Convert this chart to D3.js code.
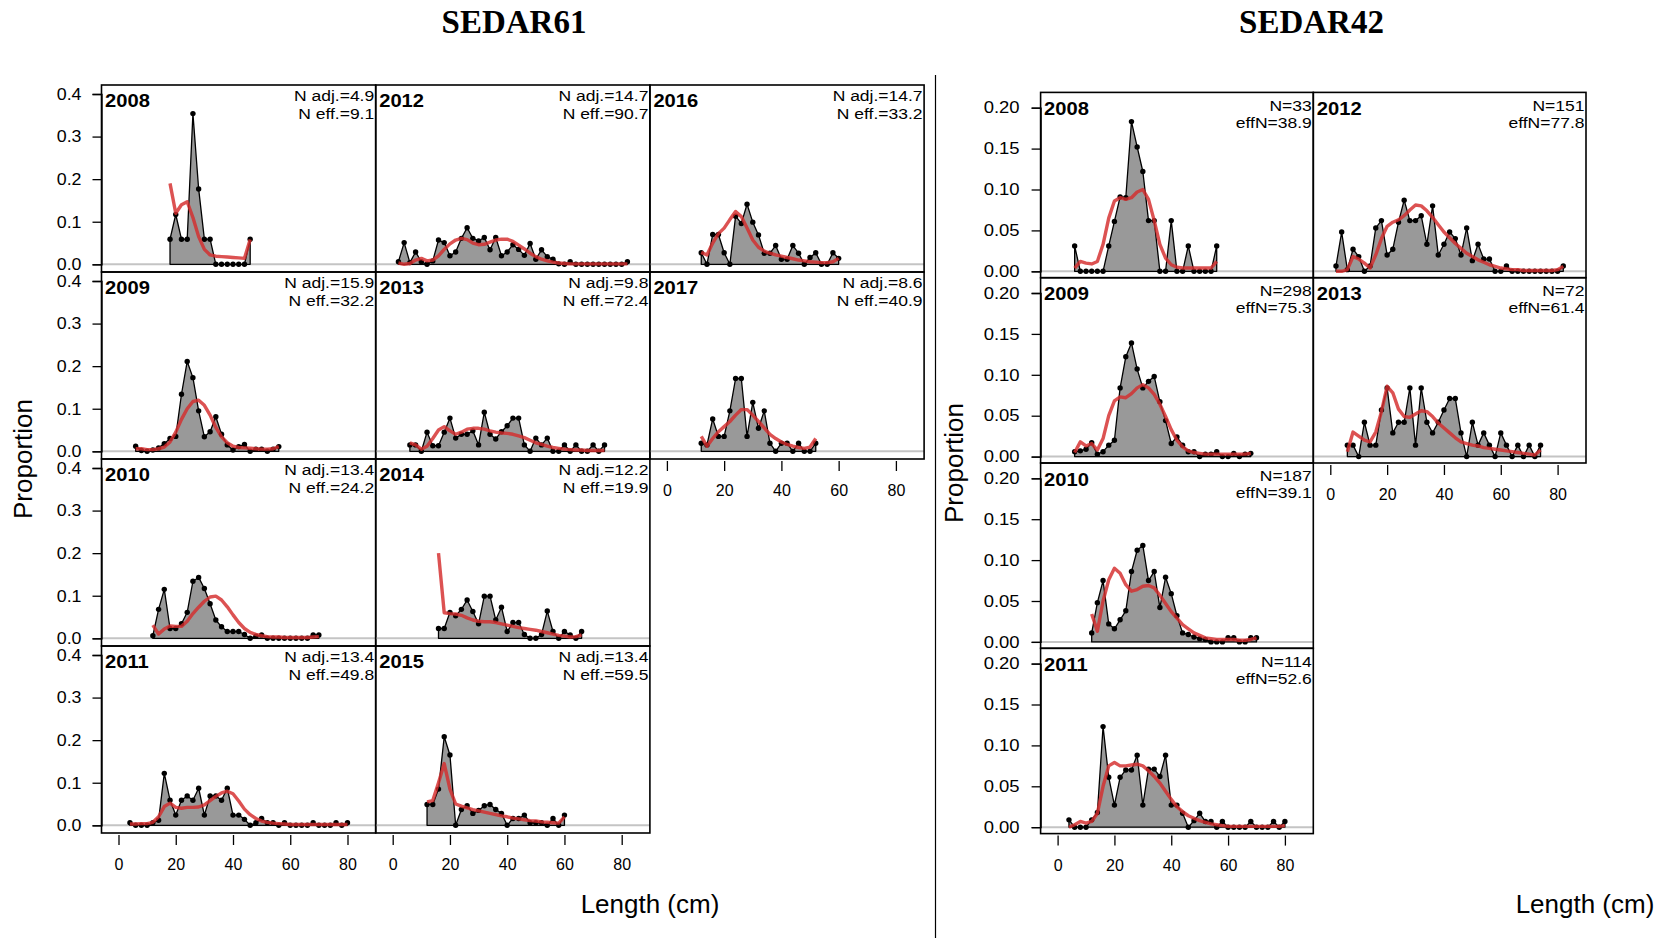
<!DOCTYPE html>
<html><head><meta charset="utf-8">
<script src="https://cdn.jsdelivr.net/npm/d3@7"></script>
<style>body{margin:0;background:#fff}</style>
</head><body>
<script>
// ---------------- DATA ----------------
const lengthTicks = [0, 20, 40, 60, 80];
const yTicks61 = [0, 0.1, 0.2, 0.3, 0.4];
const yTicks42 = [0, 0.05, 0.1, 0.15, 0.2];

// SEDAR61 panels
const years61 = [2008, 2009, 2010, 2011, 2012, 2013, 2014, 2015, 2016, 2017];
const nAdj61 = ["4.9", "15.9", "13.4", "13.4", "14.7", "9.8", "12.2", "13.4", "14.7", "8.6"];
const nEff61 = ["9.1", "32.2", "24.2", "49.8", "90.7", "72.4", "19.9", "59.5", "33.2", "40.9"];
const start61 = [18, 6, 12, 4, 2, 6, 16, 12, 12, 12]; // first length bin (cm), 2-cm bins

const obs61_2008 = [0.059,0.117,0.059,0.059,0.354,0.177,0.059,0.059,0,0,0,0,0,0,0.059];
const exp61_2008 = [0.19,0.12,0.14,0.147,0.11,0.065,0.035,0.022,0.019,0.018,0.017,0.016,0.015,0.014,0.058];
const obs61_2009 = [0.012,0.002,0,0.003,0.008,0.018,0.03,0.035,0.134,0.211,0.173,0.095,0.034,0.046,0.081,0.04,0.015,0.003,0.011,0.016,0,0.005,0.005,0,0.005,0.011];
const exp61_2009 = [0.006,0.006,0.004,0.004,0.006,0.01,0.022,0.045,0.075,0.1,0.117,0.12,0.108,0.085,0.056,0.034,0.02,0.012,0.009,0.008,0.007,0.006,0.005,0.005,0.006,0.011];
const obs61_2010 = [0.006,0.068,0.115,0.023,0.023,0.034,0.061,0.134,0.143,0.117,0.081,0.043,0.027,0.016,0.016,0.016,0.009,0,0.005,0.008,0,0,0,0,0,0,0,0,0.008,0.008];
const exp61_2010 = [0.031,0.01,0.022,0.029,0.028,0.028,0.04,0.058,0.073,0.087,0.097,0.099,0.09,0.074,0.055,0.037,0.023,0.014,0.009,0.006,0.004,0.003,0.003,0.002,0.002,0.002,0.002,0.002,0.003,0.004];
const obs61_2011 = [0.006,0,0,0,0.006,0.012,0.122,0.059,0.024,0.059,0.069,0.059,0.087,0.024,0.069,0.069,0.059,0.087,0.024,0.024,0.014,0,0.006,0.016,0.006,0.006,0,0.006,0,0,0,0,0.006,0,0,0,0.006,0,0.006];
const exp61_2011 = [0.003,0.003,0.004,0.004,0.007,0.02,0.044,0.052,0.042,0.04,0.042,0.042,0.043,0.048,0.058,0.068,0.076,0.08,0.074,0.057,0.038,0.025,0.016,0.01,0.007,0.005,0.004,0.003,0.002,0.002,0.002,0.002,0.002,0.002,0.002,0.002,0.002,0.002,0.002];
const obs61_2012 = [0.006,0.051,0.004,0.029,0.006,0,0.008,0.057,0.051,0.02,0.029,0.061,0.086,0.061,0.055,0.063,0.034,0.063,0.02,0.029,0.046,0.035,0.021,0.049,0.012,0.034,0.018,0.012,0.001,0,0.006,0,0,0,0,0,0,0,0,0,0.006];
const exp61_2012 = [0.003,0.0,0.002,0.01,0.014,0.008,0.01,0.02,0.035,0.048,0.057,0.061,0.058,0.05,0.046,0.047,0.052,0.057,0.059,0.059,0.054,0.045,0.036,0.026,0.018,0.012,0.008,0.005,0.003,0.002,0.001,0.001,0.001,0.001,0.001,0.001,0.001,0.001,0.001,0.001,0.001];
const obs61_2013 = [0.015,0.015,0,0.045,0.013,0.013,0.045,0.078,0.031,0.04,0.04,0.048,0.015,0.092,0.04,0.029,0.046,0.06,0.078,0.078,0.015,0,0.031,0.015,0.031,0,0,0.015,0,0.015,0,0,0.015,0,0.015];
const exp61_2013 = [0.02,0.015,0.005,0.012,0.03,0.05,0.058,0.048,0.04,0.045,0.052,0.054,0.054,0.052,0.048,0.045,0.043,0.042,0.04,0.036,0.032,0.026,0.02,0.016,0.012,0.009,0.007,0.005,0.004,0.003,0.003,0.002,0.002,0.002,0.002];
const obs61_2014 = [0.023,0.023,0.061,0.053,0.068,0.09,0.063,0.034,0.099,0.099,0.043,0.073,0.016,0.037,0.037,0.009,0,0,0.009,0.064,0.016,0,0.016,0.008,0,0.016];
const exp61_2014 = [0.2,0.06,0.058,0.057,0.054,0.048,0.043,0.04,0.039,0.039,0.037,0.034,0.031,0.028,0.025,0.023,0.021,0.019,0.016,0.013,0.01,0.007,0.005,0.003,0.004,0.008];
const obs61_2015 = [0.049,0.049,0.085,0.208,0.165,0,0.037,0.046,0.028,0.035,0.046,0.049,0.037,0.028,0,0.016,0.016,0.024,0.006,0.006,0.006,0,0.016,0,0.024];
const exp61_2015 = [0.055,0.058,0.1,0.145,0.085,0.05,0.045,0.041,0.037,0.034,0.031,0.028,0.025,0.022,0.02,0.017,0.015,0.013,0.011,0.01,0.008,0.007,0.006,0.005,0.02];
const obs61_2016 = [0.027,0,0.07,0.07,0.027,0,0.113,0.096,0.141,0.099,0.069,0.026,0.026,0.044,0.012,0.012,0.044,0.026,0,0.016,0.027,0,0,0.027,0.014];
const exp61_2016 = [0.028,0.022,0.05,0.072,0.085,0.105,0.124,0.112,0.085,0.057,0.04,0.031,0.026,0.022,0.019,0.016,0.013,0.01,0.008,0.006,0.005,0.004,0.004,0.006,0.014];
const obs61_2017 = [0.019,0.015,0.076,0.035,0.035,0.095,0.171,0.171,0.035,0.115,0.054,0.095,0.019,0,0.019,0.019,0,0.019,0,0,0.019];
const exp61_2017 = [0.035,0.012,0.03,0.046,0.058,0.07,0.085,0.098,0.098,0.085,0.07,0.055,0.04,0.03,0.022,0.016,0.012,0.009,0.007,0.01,0.03];

// SEDAR42 panels
const years42 = [2008, 2009, 2010, 2011, 2012, 2013];
const nObs42 = ["33", "298", "187", "114", "151", "72"];
const effN42 = ["38.9", "75.3", "39.1", "52.6", "77.8", "61.4"];
const start42 = [6, 6, 12, 4, 2, 6];

const obs42_2008 = [0.031,0,0,0,0,0,0.031,0.061,0.091,0.09,0.183,0.152,0.122,0.062,0.062,0,0,0.062,0,0,0.031,0,0,0,0,0.031];
const exp42_2008 = [0.004,0.012,0.01,0.009,0.012,0.033,0.065,0.086,0.09,0.088,0.09,0.097,0.1,0.088,0.062,0.033,0.016,0.008,0.005,0.004,0.004,0.004,0.004,0.004,0.004,0.012];
const obs42_2009 = [0.006,0.007,0.009,0.017,0.003,0.006,0.014,0.02,0.084,0.122,0.139,0.107,0.084,0.092,0.098,0.067,0.044,0.016,0.024,0.014,0.006,0.006,0,0.003,0.003,0.006,0,0,0.004,0,0.003,0.004];
const exp42_2009 = [0.005,0.018,0.013,0.016,0.008,0.022,0.05,0.068,0.073,0.072,0.077,0.084,0.088,0.084,0.076,0.064,0.049,0.033,0.02,0.012,0.007,0.005,0.004,0.003,0.003,0.003,0.003,0.003,0.003,0.003,0.003,0.004];
const obs42_2010 = [0.011,0.048,0.075,0.022,0.016,0.027,0.038,0.086,0.112,0.118,0.075,0.086,0.042,0.079,0.059,0.032,0.011,0.009,0.006,0.004,0.003,0,0,0,0.005,0.005,0,0,0.005,0.005];
const exp42_2010 = [0.034,0.013,0.05,0.076,0.09,0.084,0.07,0.062,0.064,0.068,0.069,0.066,0.057,0.047,0.037,0.029,0.021,0.016,0.011,0.008,0.005,0.004,0.003,0.003,0.003,0.003,0.002,0.002,0.003,0.005];
const obs42_2011 = [0.009,0,0,0,0.009,0.018,0.123,0.061,0.027,0.061,0.07,0.07,0.088,0.027,0.071,0.071,0.062,0.088,0.027,0.027,0.017,0,0.008,0.017,0.007,0.007,0,0.007,0,0,0,0,0.007,0,0,0,0.007,0,0.007];
const exp42_2011 = [0,0.003,0.007,0.005,0.007,0.017,0.05,0.075,0.079,0.075,0.075,0.076,0.077,0.075,0.069,0.062,0.054,0.044,0.034,0.025,0.019,0.014,0.011,0.008,0.006,0.004,0.003,0.002,0.001,0.001,0.001,0.001,0.001,0.001,0.001,0.001,0.001,0.001,0.002];
const obs42_2012 = [0.0065,0.048,0.002,0.027,0.018,0,0.0065,0.053,0.062,0.02,0.027,0.06,0.087,0.062,0.062,0.068,0.033,0.08,0.02,0.033,0.048,0.04,0.02,0.053,0.013,0.033,0.015,0.015,0,0,0.0065,0,0,0,0,0,0,0,0,0,0.0065];
const exp42_2012 = [0,0,0.002,0.018,0.015,0.01,0.004,0.02,0.04,0.055,0.06,0.063,0.068,0.075,0.081,0.08,0.074,0.066,0.057,0.048,0.041,0.034,0.028,0.022,0.018,0.014,0.011,0.008,0.006,0.004,0.003,0.002,0.002,0.001,0.001,0.001,0.001,0.001,0.001,0.002,0.006];
const obs42_2013 = [0.014,0.014,0,0.042,0.014,0.014,0.057,0.084,0.029,0.042,0.042,0.084,0.014,0.084,0.042,0.029,0.042,0.057,0.071,0.071,0.029,0,0.042,0.014,0.029,0.014,0,0.029,0.014,0,0.014,0,0.014,0,0.014];
const exp42_2013 = [0.006,0.03,0.025,0.02,0.018,0.03,0.055,0.086,0.078,0.058,0.049,0.048,0.052,0.056,0.055,0.049,0.041,0.035,0.029,0.023,0.018,0.016,0.014,0.013,0.011,0.01,0.009,0.008,0.007,0.006,0.005,0.004,0.003,0.002,0.008];

// ---------------- DRAWING ----------------
const W = 1665, H = 938;
const SANS = '"Liberation Sans", Arial, Helvetica, sans-serif';
const SERIF = '"Liberation Serif", "Times New Roman", serif';
const svg = d3.select("body").append("svg").attr("width", W).attr("height", H)
  .style("font-family", SANS);

const obs61 = [obs61_2008, obs61_2009, obs61_2010, obs61_2011, obs61_2012, obs61_2013, obs61_2014, obs61_2015, obs61_2016, obs61_2017];
const exp61 = [exp61_2008, exp61_2009, exp61_2010, exp61_2011, exp61_2012, exp61_2013, exp61_2014, exp61_2015, exp61_2016, exp61_2017];
const obs42 = [obs42_2008, obs42_2009, obs42_2010, obs42_2011, obs42_2012, obs42_2013];
const exp42 = [exp42_2008, exp42_2009, exp42_2010, exp42_2011, exp42_2012, exp42_2013];

function toPts(arr, start) { return arr.map((p, i) => ({ L: start + 2 * i, p })); }

function stretchText(sel, sx) {
  sel.each(function () {
    const t = d3.select(this);
    const x = +t.attr("x") || 0, y = +t.attr("y") || 0;
    t.attr("x", 0).attr("y", 0).attr("transform", `translate(${x},${y}) scale(${sx},1)`);
  });
}

function drawGroup(cfg) {
  const g = svg.append("g");
  cfg.panels.forEach(pn => {
    const left = cfg.left + pn.col * cfg.colW;
    const top = cfg.top + pn.row * cfg.rowH;
    const right = left + cfg.colW, bottom = top + cfg.rowH;
    const x = d3.scaleLinear().domain([0, 80]).range([left + cfg.xOff, left + cfg.xOff + cfg.xSpan]);
    const y = d3.scaleLinear().domain([0, cfg.yMax]).range([top + cfg.y0Off, top + cfg.yTopOff]);
    const pg = g.append("g");

    // zero reference line
    pg.append("line").attr("x1", left).attr("x2", right).attr("y1", y(0)).attr("y2", y(0))
      .attr("stroke", "#c4c4c4").attr("stroke-width", 2);

    const obs = toPts(pn.obs, pn.start), ex = toPts(pn.exp, pn.start);
    const poly = [{ L: obs[0].L, p: 0 }, ...obs, { L: obs[obs.length - 1].L, p: 0 }];
    pg.append("path")
      .attr("d", d3.line().x(d => x(d.L)).y(d => y(d.p))(poly) + "Z")
      .attr("fill", "#999999").attr("stroke", "#000").attr("stroke-width", 1.3)
      .attr("stroke-linejoin", "round");
    pg.selectAll("circle").data(obs).join("circle")
      .attr("cx", d => x(d.L)).attr("cy", d => y(d.p)).attr("r", 2.7).attr("fill", "#000");
    pg.append("path")
      .attr("d", d3.line().x(d => x(d.L)).y(d => y(d.p))(ex))
      .attr("fill", "none").attr("stroke", "#d42c2c").attr("stroke-opacity", 0.82)
      .attr("stroke-width", 3.4).attr("stroke-linejoin", "round");

    // panel box
    pg.append("rect").attr("x", left).attr("y", top).attr("width", cfg.colW).attr("height", cfg.rowH)
      .attr("fill", "none").attr("stroke", "#000").attr("stroke-width", 1.6);

    // labels
    pg.append("text").attr("x", left + 3.5).attr("y", top + cfg.yearDy)
      .attr("font-size", 18).attr("font-weight", "bold").text(pn.year)
      .call(stretchText, 1.12);
    pg.append("text").attr("x", right - 1.5).attr("y", top + cfg.l1Dy).attr("text-anchor", "end")
      .attr("font-size", 15.5).text(pn.l1).call(stretchText, 1.13);
    pg.append("text").attr("x", right - 1.5).attr("y", top + cfg.l2Dy).attr("text-anchor", "end")
      .attr("font-size", 15.5).text(pn.l2).call(stretchText, 1.13);

    if (pn.col === 0) {
      const ax = pg.append("g").attr("transform", `translate(${left},0)`)
        .call(d3.axisLeft(y).tickValues(cfg.yTicks).tickFormat(d3.format(cfg.yFmt)).tickSize(9).tickPadding(cfg.yPad));
      ax.select(".domain").attr("stroke-width", 1.3);
      ax.selectAll(".tick line").attr("stroke-width", 1.3);
      ax.selectAll(".tick text").attr("font-size", 16.5).attr("font-family", SANS).attr("fill", "#000")
        .call(stretchText, cfg.ySx);
    }
    if (pn.xaxis) {
      const ax = pg.append("g").attr("transform", `translate(0,${bottom + 2})`)
        .call(d3.axisBottom(x).tickValues(lengthTicks).tickSize(10).tickPadding(14));
      ax.select(".domain").remove();
      ax.selectAll(".tick line").attr("stroke-width", 1.3);
      ax.selectAll(".tick text").attr("font-size", 16).attr("font-family", SANS).attr("fill", "#000");
    }
  });
}

const layout61 = [[0,0,0],[0,1,0],[0,2,0],[0,3,1],[1,0,0],[1,1,0],[1,2,0],[1,3,1],[2,0,0],[2,1,1]];
drawGroup({
  left: 101.5, colW: 274.2, top: 85, rowH: 187, yMax: 0.4, y0Off: 179.3, yTopOff: 9,
  xOff: 17, xSpan: 229, yTicks: yTicks61, yFmt: ".1f", ySx: 1.08, yPad: 11,
  yearDy: 22, l1Dy: 15.7, l2Dy: 34,
  panels: years61.map((yr, i) => ({
    year: yr, col: layout61[i][0], row: layout61[i][1], xaxis: layout61[i][2] === 1,
    start: start61[i], obs: obs61[i], exp: exp61[i],
    l1: "N adj.=" + nAdj61[i], l2: "N eff.=" + nEff61[i]
  }))
});

const layout42 = [[0,0,0],[0,1,0],[0,2,0],[0,3,1],[1,0,0],[1,1,1]];
drawGroup({
  left: 1040.6, colW: 272.7, top: 92.4, rowH: 185.3, yMax: 0.2, y0Off: 178.9, yTopOff: 15.3,
  xOff: 17, xSpan: 227.3, yTicks: yTicks42, yFmt: ".2f", ySx: 1.12, yPad: 12,
  yearDy: 22.5, l1Dy: 18.3, l2Dy: 35.3,
  panels: years42.map((yr, i) => ({
    year: yr, col: layout42[i][0], row: layout42[i][1], xaxis: layout42[i][2] === 1,
    start: start42[i], obs: obs42[i], exp: exp42[i],
    l1: "N=" + nObs42[i], l2: "effN=" + effN42[i]
  }))
});

// divider
svg.append("line").attr("x1", 935.5).attr("x2", 935.5).attr("y1", 75).attr("y2", H)
  .attr("stroke", "#000").attr("stroke-width", 1.2);

// titles
[["SEDAR61", 514], ["SEDAR42", 1311.5]].forEach(([t, cx]) => {
  svg.append("text").attr("x", cx).attr("y", 32.5).attr("text-anchor", "middle")
    .attr("font-family", SERIF).attr("font-weight", "bold").attr("font-size", 33).text(t);
});
// axis titles
[[23.4, 459], [953.5, 463]].forEach(([cx, cy]) => {
  svg.append("text").attr("transform", `translate(${cx},${cy}) rotate(-90)`)
    .attr("text-anchor", "middle").attr("dominant-baseline", "central")
    .attr("font-size", 26).text("Proportion");
});
[[650, 913], [1585, 913]].forEach(([cx, cy]) => {
  svg.append("text").attr("x", cx).attr("y", cy).attr("text-anchor", "middle")
    .attr("font-size", 26).text("Length (cm)");
});
</script>
</body></html>
